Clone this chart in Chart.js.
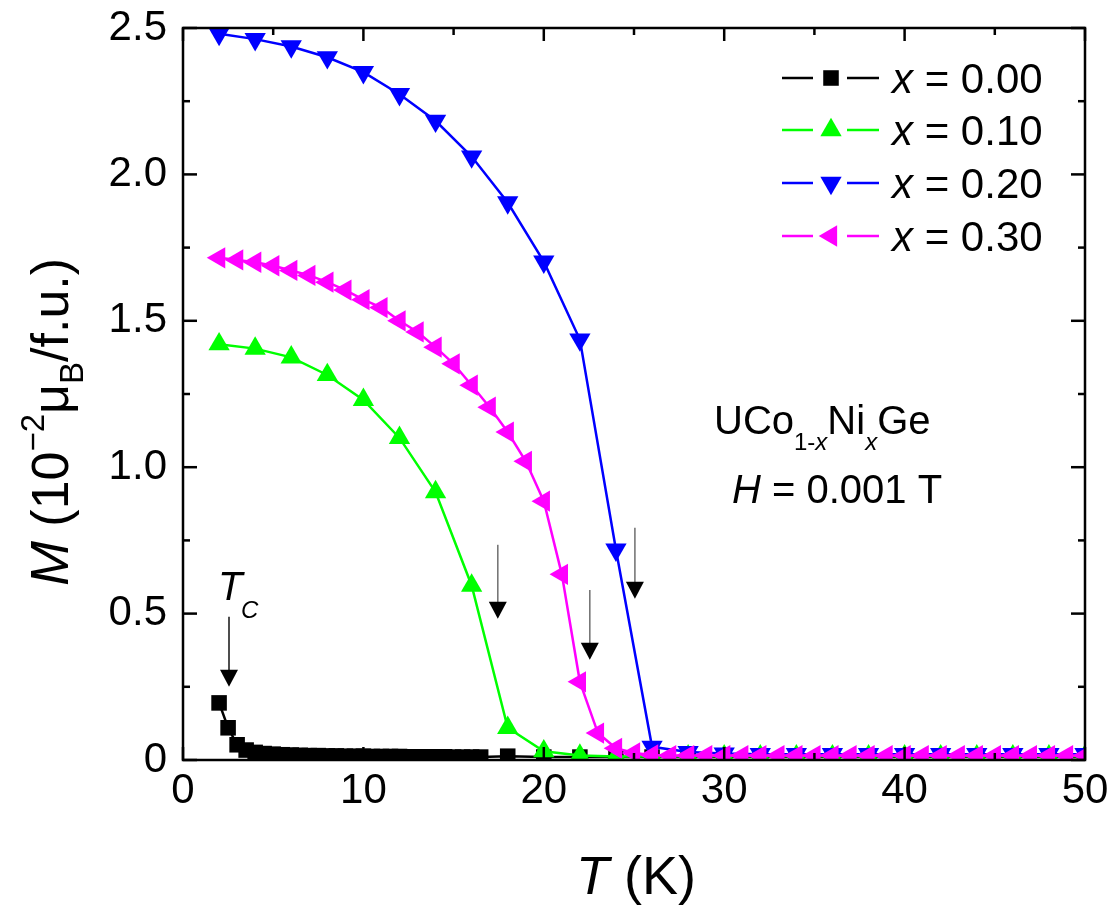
<!DOCTYPE html>
<html><head><meta charset="utf-8">
<script src="https://cdn.jsdelivr.net/npm/chart.js@4/dist/chart.umd.min.js"></script>
<style>html,body{margin:0;padding:0;background:#fff}#wrap{width:1116px;height:906px;position:relative}</style>
</head><body><div id="wrap"><canvas id="c" width="1116" height="906"></canvas></div>
<script>
// ---- data (T in K, M in 10^-2 muB/f.u.) ----
const T_x000 = [2,2.5,3,3.5,4,4.5,5,5.5,6,6.5,7,7.5,8,8.5,9,9.5,10,10.5,11,11.5,12,12.5,13,13.5,14,14.5,15,15.5,16,16.5,18,20,22,24,26,28,30,32,34,36,38,40,42,44,46,48,50];
const M_x000 = [0.195,0.110,0.052,0.034,0.026,0.022,0.020,0.018,0.017,0.016,0.015,0.015,0.014,0.014,0.013,0.013,0.013,0.012,0.012,0.012,0.012,0.011,0.011,0.011,0.011,0.011,0.010,0.010,0.010,0.010,0.013,0.010,0.010,0.010,0.010,0.010,0.010,0.010,0.010,0.010,0.010,0.010,0.010,0.010,0.010,0.010,0.010];

const T_x010 = [2,4,6,8,10,12,14,16,18,20,22,24,26,28,30,32,34,36,38,40,42,44,46,48,50];
const M_x010 = [1.420,1.405,1.375,1.315,1.230,1.100,0.915,0.596,0.110,0.030,0.015,0.012,0.012,0.013,0.013,0.013,0.013,0.013,0.013,0.013,0.013,0.013,0.013,0.013,0.013];

const T_x020 = [2,4,6,8,10,12,14,16,18,20,22,24,26,28,30,32,34,36,38,40,42,44,46,48,50];
const M_x020 = [2.480,2.462,2.437,2.400,2.349,2.274,2.183,2.061,1.904,1.702,1.436,0.718,0.045,0.027,0.022,0.020,0.020,0.020,0.020,0.020,0.020,0.020,0.020,0.020,0.020];

const T_x030 = [2,3,4,5,6,7,8,9,10,11,12,13,14,15,16,17,18,19,20,21,22,23,24,25,26,27,28,29,30,31,32,33,34,35,36,37,38,39,40,41,42,43,44,45,46,47,48,49,50];
const M_x030 = [1.715,1.708,1.700,1.688,1.672,1.655,1.632,1.605,1.572,1.545,1.500,1.462,1.410,1.353,1.280,1.205,1.120,1.020,0.884,0.634,0.267,0.092,0.040,0.024,0.017,0.015,0.015,0.015,0.015,0.015,0.015,0.015,0.015,0.015,0.015,0.015,0.015,0.015,0.015,0.015,0.015,0.015,0.015,0.015,0.015,0.015,0.015,0.015,0.015];

const seriesLabels = ['0.00','0.10','0.20','0.30'];
const seriesColors = ['#000000','#00ff00','#0000ff','#ff00ff'];
const xTicks = [0,10,20,30,40,50];
const xMinor = [5,15,25,35,45];
const yTicks = [0,0.5,1.0,1.5,2.0,2.5];
const yMinor = [0.25,0.75,1.25,1.75,2.25];

// Tc arrows: [T, M of shaft top, M of arrow tip]
const arrowT = [2.55, 17.45, 22.55, 25.05];
const arrowTop = [0.489, 0.735, 0.581, 0.793];
const arrowTip = [0.250, 0.482, 0.342, 0.551];

const FONT = "'Liberation Sans', Arial, Helvetica, sans-serif";

const styles = [
  {pointStyle:'rect', radius:11, rotation:0},
  {pointStyle:'triangle', radius:12.3, rotation:0},
  {pointStyle:'triangle', radius:12.3, rotation:180},
  {pointStyle:'triangle', radius:12.3, rotation:-90}
];
const Ts = [T_x000, T_x010, T_x020, T_x030];
const Ms = [M_x000, M_x010, M_x020, M_x030];
const orders = [3,2,1,0];

const datasets = Ts.map((T,i)=>({
  label: 'x = ' + seriesLabels[i],
  data: T.map((t,k)=>({x:t, y:Ms[i][k]})),
  showLine: true,
  borderColor: seriesColors[i],
  backgroundColor: seriesColors[i],
  borderWidth: 2.5,
  pointStyle: styles[i].pointStyle,
  pointRadius: styles[i].radius,
  pointRotation: styles[i].rotation,
  pointBorderWidth: 0,
  pointHoverRadius: styles[i].radius,
  tension: 0,
  order: orders[i]
}));

function drawRich(ctx, parts, x, y, align) {
  let w = 0;
  parts.forEach(p => { ctx.font = (p.italic?'italic ':'') + p.size + 'px ' + FONT; p.w = ctx.measureText(p.t).width; w += p.w; });
  let cx = align === 'center' ? x - w/2 : x;
  ctx.textBaseline = 'alphabetic'; ctx.textAlign = 'left';
  parts.forEach(p => { ctx.font = (p.italic?'italic ':'') + p.size + 'px ' + FONT; ctx.fillText(p.t, cx, y + (p.dy||0)); cx += p.w; });
}

function marker(ctx, st, x, y, color) {
  ctx.fillStyle = color; ctx.strokeStyle = color; ctx.lineWidth = 0;
  if (Chart.helpers && Chart.helpers.drawPoint) {
    Chart.helpers.drawPoint(ctx, {pointStyle: st.pointStyle, radius: st.radius, rotation: st.rotation, borderWidth: 0}, x, y);
  }
}

const decor = {
  id: 'decor',
  afterDatasetsDraw(chart) {
    const {ctx, chartArea:a, scales:{x, y}} = chart;
    ctx.save();
    ctx.strokeStyle = '#000'; ctx.lineWidth = 2.5; ctx.lineCap = 'butt';
    const seg = (x1,y1,x2,y2)=>{ctx.beginPath();ctx.moveTo(x1,y1);ctx.lineTo(x2,y2);ctx.stroke();};
    xTicks.forEach(v=>{const p=x.getPixelForValue(v); seg(p,a.bottom,p,a.bottom-13); seg(p,a.top,p,a.top+13);});
    xMinor.forEach(v=>{const p=x.getPixelForValue(v); seg(p,a.bottom,p,a.bottom-7); seg(p,a.top,p,a.top+7);});
    yTicks.forEach(v=>{const p=y.getPixelForValue(v); seg(a.left,p,a.left+14,p); seg(a.right,p,a.right-14,p);});
    yMinor.forEach(v=>{const p=y.getPixelForValue(v); seg(a.left,p,a.left+7,p); seg(a.right,p,a.right-7,p);});
    ctx.strokeRect(a.left, a.top, a.right-a.left, a.bottom-a.top);

    arrowT.forEach((t,i)=>{
      const px = x.getPixelForValue(t), top = y.getPixelForValue(arrowTop[i]), tip = y.getPixelForValue(arrowTip[i]);
      const hh = 17, hw = 9;
      ctx.strokeStyle = i===0 ? '#222' : '#777'; ctx.lineWidth = 1.6;
      seg(px, top, px, tip - hh + 1);
      ctx.fillStyle = '#000';
      ctx.beginPath(); ctx.moveTo(px-hw, tip-hh); ctx.lineTo(px+hw, tip-hh); ctx.lineTo(px, tip); ctx.closePath(); ctx.fill();
    });

    ctx.fillStyle = '#000';
    drawRich(ctx, [{t:'T', size:40, italic:true}], 218, 600);
    drawRich(ctx, [{t:'C', size:24, italic:true}], 241, 618);
    drawRich(ctx, [
      {t:'UCo', size:40}, {t:'1-', size:24, dy:16}, {t:'x', size:24, italic:true, dy:16},
      {t:'Ni', size:40}, {t:'x', size:24, italic:true, dy:16}, {t:'Ge', size:40}
    ], 714, 434);
    drawRich(ctx, [{t:'H', size:40, italic:true}, {t:' = 0.001 T', size:40}], 732, 503);

    const rows = [78, 130, 183, 236];
    rows.forEach((ry,i)=>{
      ctx.strokeStyle = seriesColors[i]; ctx.lineWidth = 2.5;
      seg(782, ry, 813, ry); seg(847, ry, 879, ry);
      marker(ctx, styles[i], 831, ry, seriesColors[i]);
      ctx.fillStyle = '#000';
      drawRich(ctx, [{t:'x', size:42, italic:true}, {t:' = ' + seriesLabels[i], size:42}], 892, ry + 15);
    });

    drawRich(ctx, [{t:'T', size:54, italic:true}, {t:' (K)', size:54}], 636, 894, 'center');
    ctx.save();
    ctx.translate(68, 422);
    ctx.rotate(-Math.PI/2);
    drawRich(ctx, [
      {t:'M', size:54, italic:true}, {t:' (10', size:52}, {t:'\u22122', size:33, dy:-24},
      {t:'\u03bc', size:52}, {t:'B', size:33, dy:15}, {t:'/f.u.)', size:52}
    ], 0, 0, 'center');
    ctx.restore();
    ctx.restore();
  }
};

new Chart(document.getElementById('c'), {
  type: 'scatter',
  data: { datasets },
  options: {
    responsive: false,
    animation: false,
    devicePixelRatio: 1,
    layout: { padding: { top: 28, right: 31, left: 0, bottom: 0 } },
    plugins: { legend: { display: false }, tooltip: { enabled: false } },
    scales: {
      x: {
        type: 'linear', min: 0, max: 50,
        afterBuildTicks: s => { s.ticks = xTicks.map(v => ({value: v})); },
        afterFit: s => { s.height = 146; s.paddingLeft = 0; s.paddingRight = 0; },
        grid: { display: false, drawTicks: false },
        border: { display: false },
        ticks: { color: '#000', font: { family: FONT, size: 42 }, padding: 6, maxRotation: 0,
                 callback: v => String(v) }
      },
      y: {
        type: 'linear', min: 0, max: 2.5,
        afterBuildTicks: s => { s.ticks = yTicks.map(v => ({value: v})); },
        afterFit: s => { s.width = 183; s.paddingTop = 0; s.paddingBottom = 0; },
        grid: { display: false, drawTicks: false },
        border: { display: false },
        ticks: { color: '#000', font: { family: FONT, size: 42 }, padding: 16,
                 callback: v => v === 0 ? '0' : v.toFixed(1) }
      }
    }
  },
  plugins: [decor]
});
</script>
</body></html>
